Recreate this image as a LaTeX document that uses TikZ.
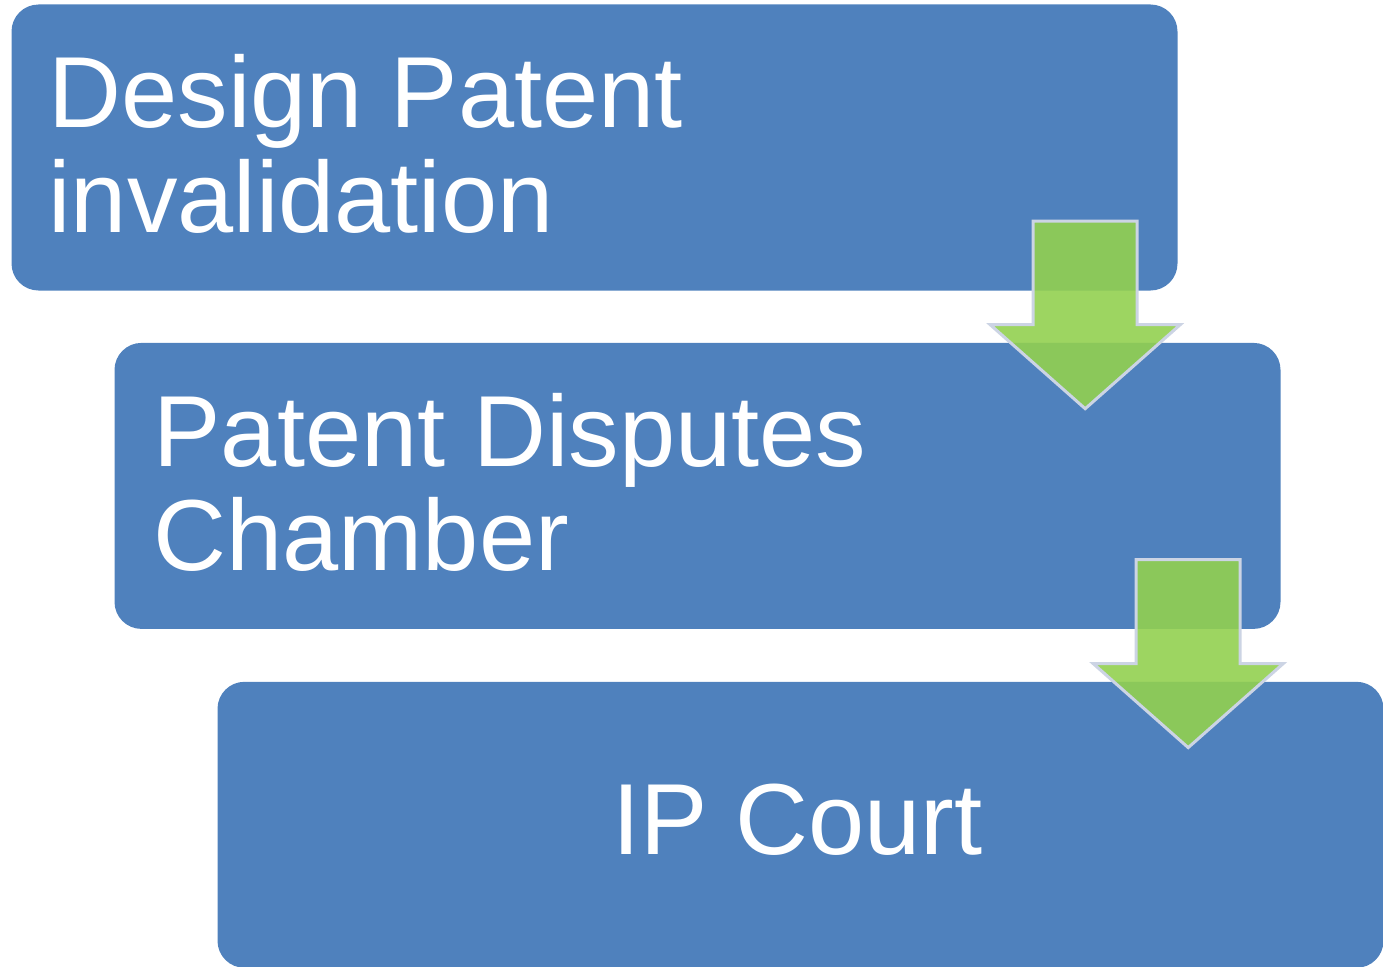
\documentclass[tikz,border=0pt]{standalone}
\usepackage{fontspec}
\setmainfont{Liberation Sans}
\usepackage{xcolor}
\usetikzlibrary{calc,positioning}
\definecolor{stageblue}{RGB}{79,129,189}
\definecolor{arrowgreen}{RGB}{146,208,80}
\definecolor{arrowedge}{RGB}{204,212,228}

\begin{document}
\begin{tikzpicture}[x=1pt, y=1pt,
stagebox/.style={rectangle, rounded corners=27pt, fill=stageblue, minimum width=1166pt, minimum height=286pt, inner sep=0pt},
stagetext/.style={text=white, font=\fontsize{101}{104.5}\selectfont, align=left, inner sep=0pt},
flowarrow/.style={draw=arrowedge, line width=3pt, fill=arrowgreen, fill opacity=0.9, line join=miter},
]
\useasboundingbox (0,0) rectangle (1383,-966);

%Boxes
\node[stagebox]    (invalid)                                 at (594.5,-147.5) {};
\node[stagebox]    (chamber)   [below=52pt of invalid, xshift=103pt]   {};
\node[stagebox]    (court)     [below=52.5pt of chamber, xshift=103pt] {};

%Texts
\node[stagetext, anchor=north west] (invalidtext) at ($(invalid.north west)+(37,-50)$) {Design Patent\\invalidation};
\node[stagetext, anchor=north west] (chambertext) at ($(chamber.north west)+(39,-50)$) {Patent Disputes\\Chamber};
\node[stagetext]                    (courttext)   at ($(court.center)+(-3,5)$)        {IP Court};

%Arrows
\foreach \from/\to in {invalid/chamber,chamber/court}
  \draw[flowarrow] ($(\from.south east)+(-144.5,69.5)$) -- ($(\from.south east)+(-40.5,69.5)$)
    |- ($(\to.north east)+(-100.5,18)$) -- ($(\to.north east)+(-195.5,-66)$)
    -- ($(\to.north east)+(-290.5,18)$) -| ($(\from.south east)+(-144.5,69.5)$) -- cycle;
\end{tikzpicture}
\end{document}
